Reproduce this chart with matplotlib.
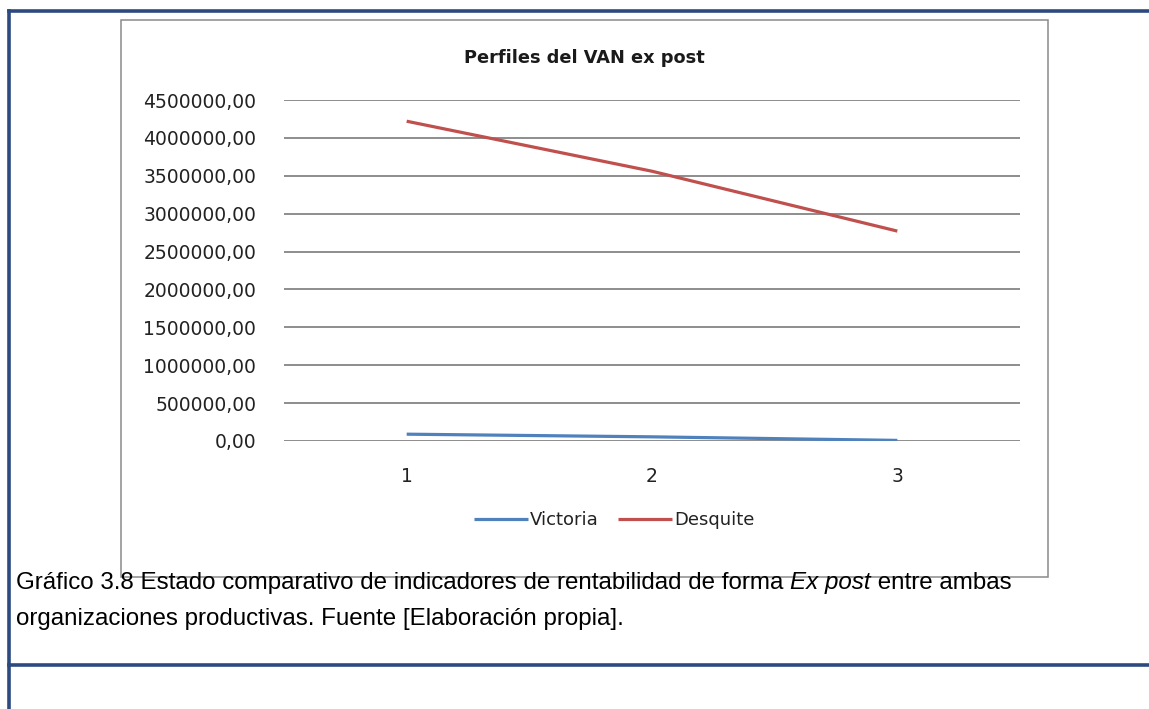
import matplotlib
matplotlib.use("Agg")
import matplotlib.pyplot as plt
from matplotlib.lines import Line2D
from matplotlib.patches import Rectangle
from matplotlib.ticker import FuncFormatter

# ==================== DATOS ====================
periodos = ["1", "2", "3"]
victoria = [90000, 55000, 8000]
desquite = [4220000, 3560000, 2770000]
y_ticks = [0, 500000, 1000000, 1500000, 2000000, 2500000, 3000000, 3500000, 4000000, 4500000]

titulo = "Perfiles del VAN ex post"
nombres = ["Victoria", "Desquite"]
pie_1a = "Gráfico 3.8 Estado comparativo de indicadores de rentabilidad de forma "
pie_1b = "Ex post"
pie_1c = " entre ambas"
pie_2 = "organizaciones productivas. Fuente [Elaboración propia]."
# ===============================================

W, H = 1149, 709
fig = plt.figure(figsize=(W / 100, H / 100), dpi=100)
fig.patch.set_facecolor("white")


def fx(px):
    return px / W


def fy(py):
    return 1 - py / H


azul_marco = "#2c4a7f"
gris = "#8a8a8a"

# Marco azul del documento
fig.add_artist(Line2D([fx(9), 1], [fy(11), fy(11)], color=azul_marco, lw=2.6))
fig.add_artist(Line2D([fx(9), fx(9)], [fy(11), 0], color=azul_marco, lw=2.6))
fig.add_artist(Line2D([fx(9), 1], [fy(665), fy(665)], color=azul_marco, lw=2.6))

# Caja del grafico
fig.add_artist(Rectangle((fx(121), fy(577)), fx(1048) - fx(121), fy(20) - fy(577),
                         fill=False, edgecolor=gris, lw=1.1))

ax = fig.add_axes([fx(284), fy(441), fx(1020) - fx(284), fy(100) - fy(441)])
x = range(len(periodos))
ax.plot(x, victoria, color="#4f81bd", lw=2.3, label=nombres[0], solid_capstyle="butt")
ax.plot(x, desquite, color="#c0504d", lw=2.3, label=nombres[1], solid_capstyle="butt")

ax.set_xlim(-0.5, len(periodos) - 0.5)
ax.set_ylim(0, 4500000)
ax.set_yticks(y_ticks)
ax.yaxis.set_major_formatter(FuncFormatter(lambda v, p: f"{v:.2f}".replace(".", ",")))
ax.set_xticks(list(x))
ax.set_xticklabels(periodos)
ax.grid(axis="y", color="#858585", lw=1.3)
ax.set_axisbelow(True)
for s in ax.spines.values():
    s.set_visible(False)
ax.tick_params(axis="y", length=0, pad=20, labelsize=13.5, labelcolor="#222222")
ax.tick_params(axis="x", length=0, pad=19, labelsize=13.5, labelcolor="#222222")

fig.text(fx(584), fy(58), titulo, ha="center", va="center", fontsize=12.8,
         fontweight="bold", color="#1a1a1a")

fig.legend(loc="center", bbox_to_anchor=(fx(614), fy(520)), ncol=2, frameon=False,
           fontsize=13, handlelength=3.0, handletextpad=0.1, columnspacing=1.1,
           labelcolor="#222222")

# Pie de figura con parte en cursiva
fam = "Liberation Sans"
fs = 17.4
r = fig.canvas.get_renderer()
t1 = fig.text(fx(16), fy(589), pie_1a, fontsize=fs, family=fam, va="baseline")
bb = t1.get_window_extent(r)
t2 = fig.text(bb.x1 / W, fy(589), pie_1b, fontsize=fs, family=fam, style="italic", va="baseline")
bb2 = t2.get_window_extent(r)
fig.text(bb2.x1 / W, fy(589), pie_1c, fontsize=fs, family=fam, va="baseline")
fig.text(fx(16), fy(625), pie_2, fontsize=fs, family=fam, va="baseline")

fig.savefig("out.png", dpi=100)
